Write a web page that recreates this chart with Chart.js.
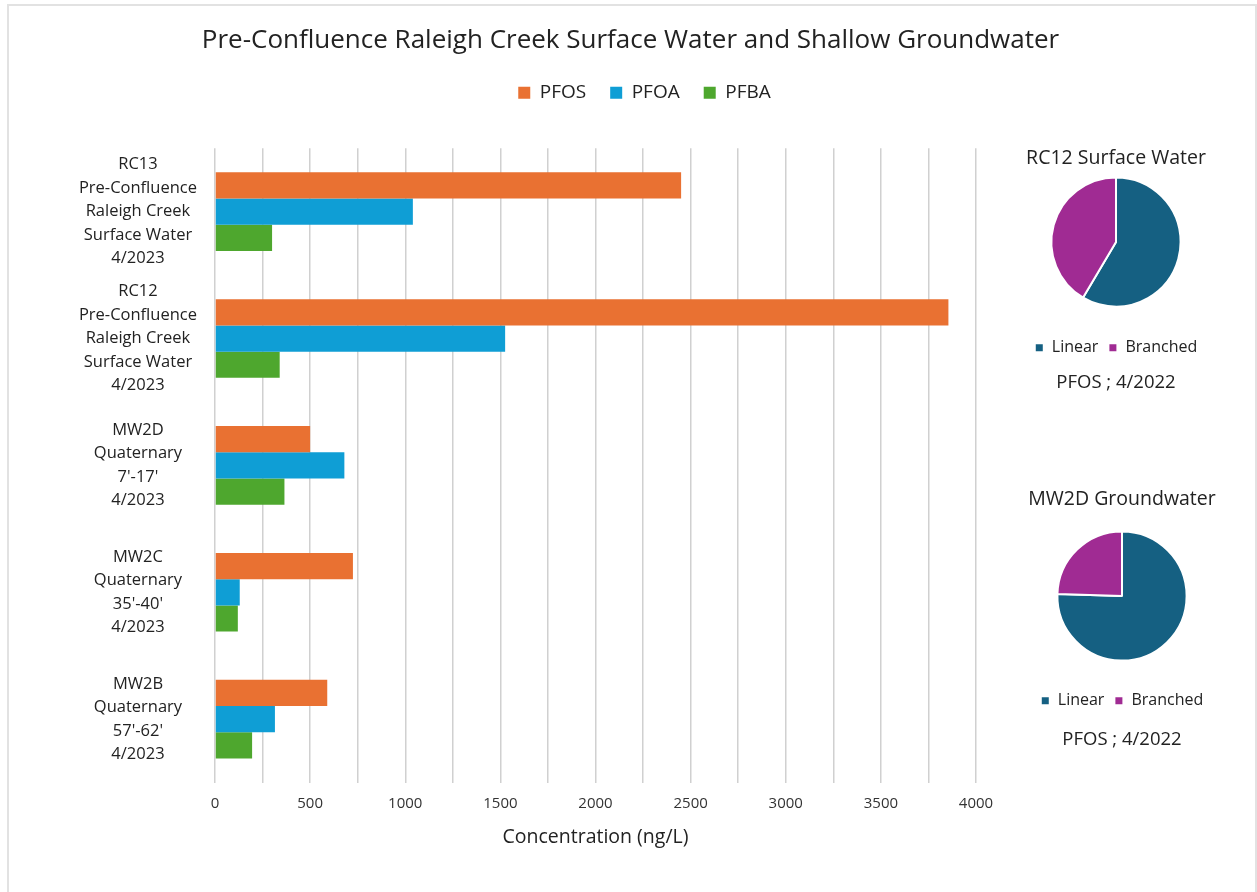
<!DOCTYPE html>
<html>
<head>
<meta charset="utf-8">
<title>Pre-Confluence Raleigh Creek</title>
<script src="https://cdn.jsdelivr.net/npm/chart.js@4.4.0/dist/chart.umd.min.js"></script>
<style>
    body { margin: 0; background: #ffffff; }
    #wrap { position: relative; width: 1257px; height: 892px; overflow: hidden; }
    #frame { position: absolute; left: 7px; top: 4px; width: 1246px; height: 900px; border: 2px solid #e2e2e2; }
    canvas { position: absolute; }
</style>
</head>
<body>
<div id="wrap">
    <div id="frame"></div>
    <canvas id="barChart" style="left:0;top:0;width:1257px;height:892px"></canvas>
    <canvas id="pieRC12" style="left:1005px;top:138px;width:232px;height:262px"></canvas>
    <canvas id="pieMW2D" style="left:1008px;top:478px;width:232px;height:282px"></canvas>
</div>
<script>
// Sample locations (y axis)
const categories = [
    ['RC13', 'Pre-Confluence', 'Raleigh Creek', 'Surface Water', '4/2023'],
    ['RC12', 'Pre-Confluence', 'Raleigh Creek', 'Surface Water', '4/2023'],
    ['MW2D', 'Quaternary', "7'-17'", '4/2023'],
    ['MW2C', 'Quaternary', "35'-40'", '4/2023'],
    ['MW2B', 'Quaternary', "57'-62'", '4/2023']
];

// Concentrations, ng/L
const pfosValues = [2450, 3855, 500, 725, 590];
const pfoaValues = [1040, 1525, 680, 130, 315];
const pfbaValues = [300, 340, 365, 120, 195];

// PFOS isomer split (%)
const isomerLabels = ['Linear', 'Branched'];
const rc12Isomers = [58.5, 41.5];
const mw2dIsomers = [75.5, 24.5];

const colors = {
    pfos: '#E97132',
    pfoa: '#0F9ED5',
    pfba: '#4EA72E',
    linear: '#156082',
    branched: '#A02B93',
    grid: '#d0d0d0',
    text: '#222222'
};

const fontFamily = "'Open Sans', sans-serif";

// legend gets extra room underneath and a small horizontal nudge
const legendSpacer = {
    id: 'legendSpacer',
    beforeInit(chart) {
        const fit = chart.legend.fit;
        chart.legend.fit = function () {
            fit.bind(chart.legend)();
            this.height += chart.options.plugins.legendSpacer.extra;
        };
    },
    afterLayout(chart, args, opts) {
        chart.legend.left += opts.shift;
        chart.legend.right += opts.shift;
    }
};

new Chart(document.getElementById('barChart'), {
    type: 'bar',
    plugins: [legendSpacer],
    data: {
        labels: categories,
        datasets: [
            { label: 'PFOS', data: pfosValues, backgroundColor: colors.pfos },
            { label: 'PFOA', data: pfoaValues, backgroundColor: colors.pfoa },
            { label: 'PFBA', data: pfbaValues, backgroundColor: colors.pfba }
        ]
    },
    options: {
        indexAxis: 'y',
        responsive: false,
        animation: false,
        layout: { padding: { left: 4, bottom: 39 } },
        datasets: {
            bar: { categoryPercentage: 0.62, barPercentage: 1.0 }
        },
        plugins: {
            legendSpacer: { extra: 36, shift: 14 },
            title: {
                display: true,
                text: 'Pre-Confluence Raleigh Creek Surface Water and Shallow Groundwater',
                color: colors.text,
                font: { family: fontFamily, size: 26, weight: 'normal' },
                padding: { top: 25, bottom: 3 }
            },
            legend: {
                position: 'top',
                labels: {
                    boxWidth: 12,
                    boxHeight: 12,
                    padding: 24,
                    color: colors.text,
                    font: { family: fontFamily, size: 19 }
                }
            },
            tooltip: { enabled: false }
        },
        scales: {
            x: {
                min: 0,
                max: 4000,
                ticks: {
                    stepSize: 250,
                    padding: 12,
                    color: '#333333',
                    font: { family: fontFamily, size: 15 },
                    callback: (v) => (v % 500 === 0 ? v : '')
                },
                grid: { color: colors.grid, lineWidth: 1.5, drawTicks: false },
                border: { display: false },
                title: {
                    display: true,
                    text: 'Concentration (ng/L)',
                    color: colors.text,
                    font: { family: fontFamily, size: 19.5 },
                    padding: { top: 1, bottom: 4 }
                }
            },
            y: {
                ticks: {
                    crossAlign: 'center',
                    padding: 10,
                    color: colors.text,
                    font: { family: fontFamily, size: 16.5, lineHeight: 1.42 }
                },
                grid: { display: false },
                border: { display: false },
                afterFit: (s) => { s.width = 211; }
            },
            // empty box that keeps the plot clear of the pie column
            spacer: {
                type: 'category',
                position: 'right',
                ticks: { display: false },
                grid: { display: false },
                border: { display: false },
                afterFit: (s) => { s.width = 281; }
            }
        }
    }
});

function pieOptions(title, pad) {
    return {
        responsive: false,
        animation: false,
        layout: { padding: { right: pad.right } },
        plugins: {
            title: {
                display: true,
                text: title,
                color: colors.text,
                font: { family: fontFamily, size: 19.5, weight: 'normal' },
                padding: { top: pad.titleTop, bottom: pad.titleBottom }
            },
            subtitle: {
                display: true,
                position: 'bottom',
                text: 'PFOS ; 4/2022',
                color: colors.text,
                font: { family: fontFamily, size: 18.5 },
                padding: { top: pad.subTop, bottom: pad.subBottom }
            },
            legend: {
                position: 'bottom',
                // blank title used as a gap above the legend row
                title: { display: true, text: ' ', font: { size: 1 }, padding: { top: pad.legendGap, bottom: 0 } },
                labels: {
                    boxWidth: 9,
                    boxHeight: 9,
                    padding: 10,
                    color: colors.text,
                    font: { family: fontFamily, size: 16 }
                }
            },
            tooltip: { enabled: false }
        }
    };
}

new Chart(document.getElementById('pieRC12'), {
    type: 'pie',
    data: {
        labels: isomerLabels,
        datasets: [{
            data: rc12Isomers,
            backgroundColor: [colors.linear, colors.branched],
            borderColor: '#ffffff',
            borderWidth: 2
        }]
    },
    options: pieOptions('RC12 Surface Water', {
        right: 10, titleTop: 9, titleBottom: 6, legendGap: 21, subTop: 6, subBottom: 6
    })
});

new Chart(document.getElementById('pieMW2D'), {
    type: 'pie',
    data: {
        labels: isomerLabels,
        datasets: [{
            data: mw2dIsomers,
            backgroundColor: [colors.linear, colors.branched],
            borderColor: '#ffffff',
            borderWidth: 2
        }]
    },
    options: pieOptions('MW2D Groundwater', {
        right: 4, titleTop: 10, titleBottom: 19, legendGap: 20, subTop: 10, subBottom: 9
    })
});
</script>
</body>
</html>
